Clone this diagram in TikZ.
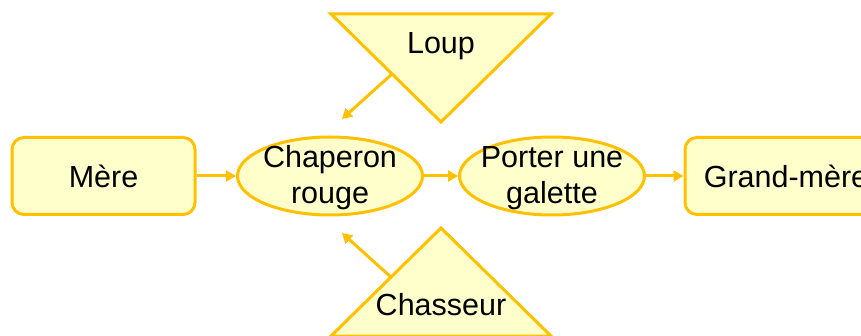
\documentclass[tikz,border=0pt]{standalone}
\usepackage{fontspec}
\setmainfont{Liberation Sans}
\usetikzlibrary{shapes.geometric,arrows.meta,positioning}
\definecolor{gold}{HTML}{FFC000}
\definecolor{paleyellow}{HTML}{FFFFCC}
\tikzset{
  label text/.style={font=\fontsize{30.5}{36}\selectfont, align=center, inner sep=0pt},
  base/.style={draw=gold, fill=paleyellow, line width=3pt, label text},
  personbox/.style={base, rounded corners=12pt, minimum width=183pt, minimum height=77pt},
  actionbox/.style={base, ellipse, minimum width=185pt, minimum height=78pt},
  link/.style={draw=gold, line width=3pt, -{Triangle[length=10pt,width=11pt]}}
}
\begin{document}
\begin{tikzpicture}[x=1pt, y=-1pt]
    \useasboundingbox (0,0) rectangle (861,336);

    % triangles
    \draw[draw=gold, fill=paleyellow, line width=3pt, line join=miter] (331,14) -- (551,14) -- (441,122) -- cycle;
    \draw[draw=gold, fill=paleyellow, line width=3pt, line join=miter] (441,228) -- (551,336) -- (331,336) -- cycle;
    \node[label text] (loup) at (441,46) {Loup};
    \node[label text] (chasseur) at (441,305) {Chasseur};
    \coordinate (loup-side) at (392,74);
    \coordinate (chasseur-side) at (392,278);

    % main row
    \node[personbox] (mere) at (103.5,176) {Mère};
    \node[actionbox] (chaperon) at (330,176) {};
    \node[label text] at (330,178) {Chaperon\\rouge};
    \node[actionbox] (galette) at (552,176) {};
    \node[label text] at (552,178) {Porter une\\galette};
    \node[personbox, minimum width=202pt] (grandmere) at (786,176) {Grand-mère};
    \coordinate (chaperon-top) at (342,119);
    \coordinate (chaperon-bottom) at (342,233);

    \draw[link] (mere) -- (chaperon);
    \draw[link] (chaperon) -- (galette);
    \draw[link] (galette) -- (grandmere);
    \draw[link] (loup-side) -- (chaperon-top);
    \draw[link] (chasseur-side) -- (chaperon-bottom);
\end{tikzpicture}
\end{document}
